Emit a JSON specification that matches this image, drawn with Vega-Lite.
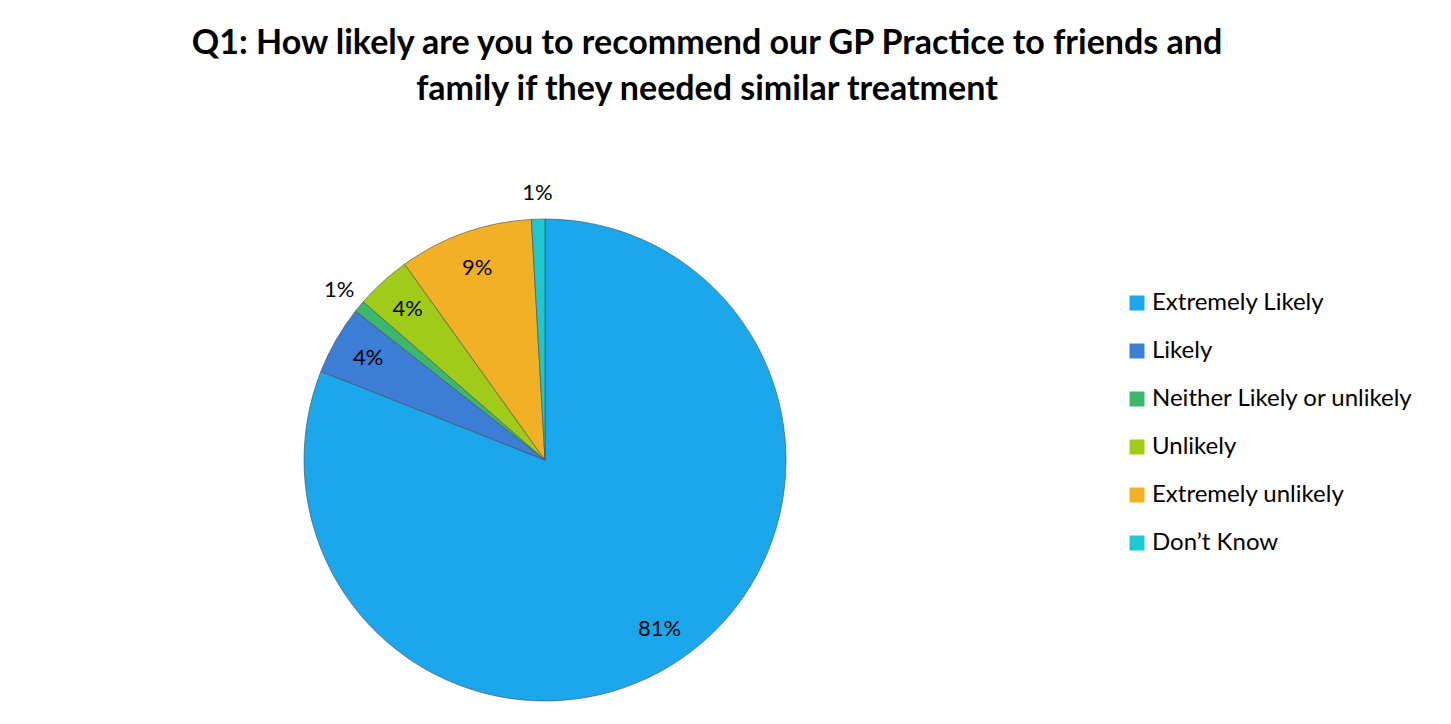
{
  "$schema": "https://vega.github.io/schema/vega-lite/v6.json",
  "width": 1090,
  "height": 500,
  "padding": {"left": 0, "top": 27, "right": 0, "bottom": 0},
  "background": "white",
  "config": {"view": {"stroke": null}, "font": "Lato"},
  "title": {
    "text": ["Q1: How likely are you to recommend our GP Practice to friends and", "family if they needed similar treatment"],
    "font": "Lato",
    "fontSize": 34,
    "fontWeight": "bold",
    "color": "#000000",
    "lineHeight": 46,
    "anchor": "middle",
    "frame": "group",
    "dx": 162,
    "offset": 75
  },
  "data": {
    "values": [
      {"response": "Extremely Likely", "value": 81.0, "label": "81%", "idx": 1},
      {"response": "Likely", "value": 4.6, "label": "4%", "idx": 2},
      {"response": "Neither Likely or unlikely", "value": 0.8, "label": "1%", "idx": 3},
      {"response": "Unlikely", "value": 3.7, "label": "4%", "idx": 4},
      {"response": "Extremely unlikely", "value": 9.0, "label": "9%", "idx": 5},
      {"response": "Don\u2019t Know", "value": 0.9, "label": "1%", "idx": 6}
    ]
  },
  "layer": [
    {
      "mark": {"type": "arc", "outerRadius": 241, "stroke": "#4a4a4a", "strokeWidth": 0.6},
      "encoding": {
        "theta": {"field": "value", "type": "quantitative", "stack": true},
        "order": {"field": "idx", "type": "quantitative"},
        "color": {
          "field": "response",
          "type": "nominal",
          "sort": ["Extremely Likely", "Likely", "Neither Likely or unlikely", "Unlikely", "Extremely unlikely", "Don\u2019t Know"],
          "scale": {
            "domain": ["Extremely Likely", "Likely", "Neither Likely or unlikely", "Unlikely", "Extremely unlikely", "Don\u2019t Know"],
            "range": ["#1AA7EC", "#3C7ED6", "#3CB86C", "#A0CB18", "#F2B124", "#1CC8D2"]
          },
          "legend": {
            "title": null,
            "orient": "none",
            "legendX": 1125,
            "legendY": 81,
            "padding": 0,
            "symbolType": "square",
            "symbolSize": 225,
            "symbolStrokeWidth": 0,
            "labelFont": "Lato",
            "labelFontSize": 24,
            "labelColor": "#000000",
            "labelOffset": 3,
            "labelLimit": 500,
            "rowPadding": 24
          }
        }
      }
    },
    {
      "mark": {"type": "text", "radius": 204, "font": "Lato", "fontSize": 22, "color": "#000000"},
      "encoding": {
        "theta": {"field": "value", "type": "quantitative", "stack": true},
        "order": {"field": "idx", "type": "quantitative"},
        "text": {"condition": {"test": "datum.value >= 2", "field": "label"}, "value": ""}
      }
    },
    {
      "mark": {"type": "text", "radius": 267, "font": "Lato", "fontSize": 22, "color": "#000000"},
      "encoding": {
        "theta": {"field": "value", "type": "quantitative", "stack": true},
        "order": {"field": "idx", "type": "quantitative"},
        "text": {"condition": {"test": "datum.value < 2", "field": "label"}, "value": ""}
      }
    }
  ]
}
